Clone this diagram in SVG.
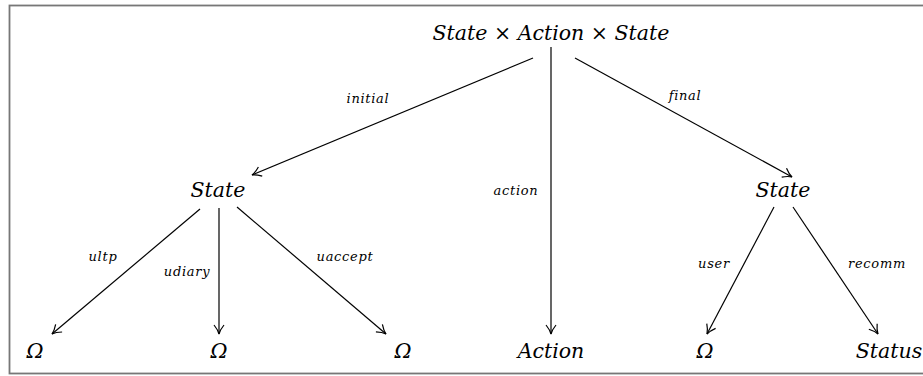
<svg xmlns="http://www.w3.org/2000/svg" width="923" height="376" viewBox="0 0 923 376">
<style>
.n{font-family:"DejaVu Serif",serif;font-style:italic;font-size:20.5px;fill:#000;text-anchor:middle}
.u{font-style:normal}
.l{font-family:"DejaVu Serif",serif;font-style:italic;font-size:13px;letter-spacing:0.7px;fill:#000;text-anchor:middle}
.e{stroke:#000;stroke-width:1.2;fill:none;marker-end:url(#a)}
</style>
<defs>
<marker id="a" viewBox="-10 -6 12 12" refX="0" refY="0" markerWidth="12" markerHeight="12" markerUnits="userSpaceOnUse" orient="auto">
<path d="M-9,-5 Q-4,-1 0,0 Q-4,1 -9,5" fill="none" stroke="#000" stroke-width="1.2"/>
</marker>
</defs>
<rect x="9.5" y="5.5" width="920" height="368" fill="#fff" stroke="#777" stroke-width="1.8"/>
<g id="edges">
<line class="e" x1="533" y1="58" x2="252" y2="175"/>
<line class="e" x1="551" y1="47" x2="551" y2="334"/>
<line class="e" x1="575" y1="58" x2="792" y2="177"/>
<line class="e" x1="200" y1="209" x2="52" y2="334"/>
<line class="e" x1="219" y1="208" x2="219" y2="334"/>
<line class="e" x1="237" y1="207" x2="386" y2="334"/>
<line class="e" x1="774" y1="207" x2="707" y2="334"/>
<line class="e" x1="793" y1="207" x2="878" y2="334"/>
</g>
<g id="labels">
<text class="l" x="368" y="103">initial</text>
<text class="l" x="685" y="100">final</text>
<text class="l" x="516" y="195">action</text>
<text class="l" x="103" y="261">ultp</text>
<text class="l" x="187" y="276">udiary</text>
<text class="l" x="345" y="261">uaccept</text>
<text class="l" x="714" y="268">user</text>
<text class="l" x="877" y="268">recomm</text>
</g>
<g id="n-top"><text class="n" x="551" y="40">State <tspan class="u">×</tspan> Action <tspan class="u">×</tspan> State</text></g>
<g id="n-state1"><text class="n" x="218" y="197">State</text></g>
<g id="n-state2"><text class="n" x="783" y="197">State</text></g>
<g id="n-o1"><text class="n" x="35" y="358">Ω</text></g>
<g id="n-o2"><text class="n" x="219" y="358">Ω</text></g>
<g id="n-o3"><text class="n" x="403" y="358">Ω</text></g>
<g id="n-action"><text class="n" x="551" y="358">Action</text></g>
<g id="n-o4"><text class="n" x="705" y="358">Ω</text></g>
<g id="n-status"><text class="n" x="889" y="358">Status</text></g>
</svg>
